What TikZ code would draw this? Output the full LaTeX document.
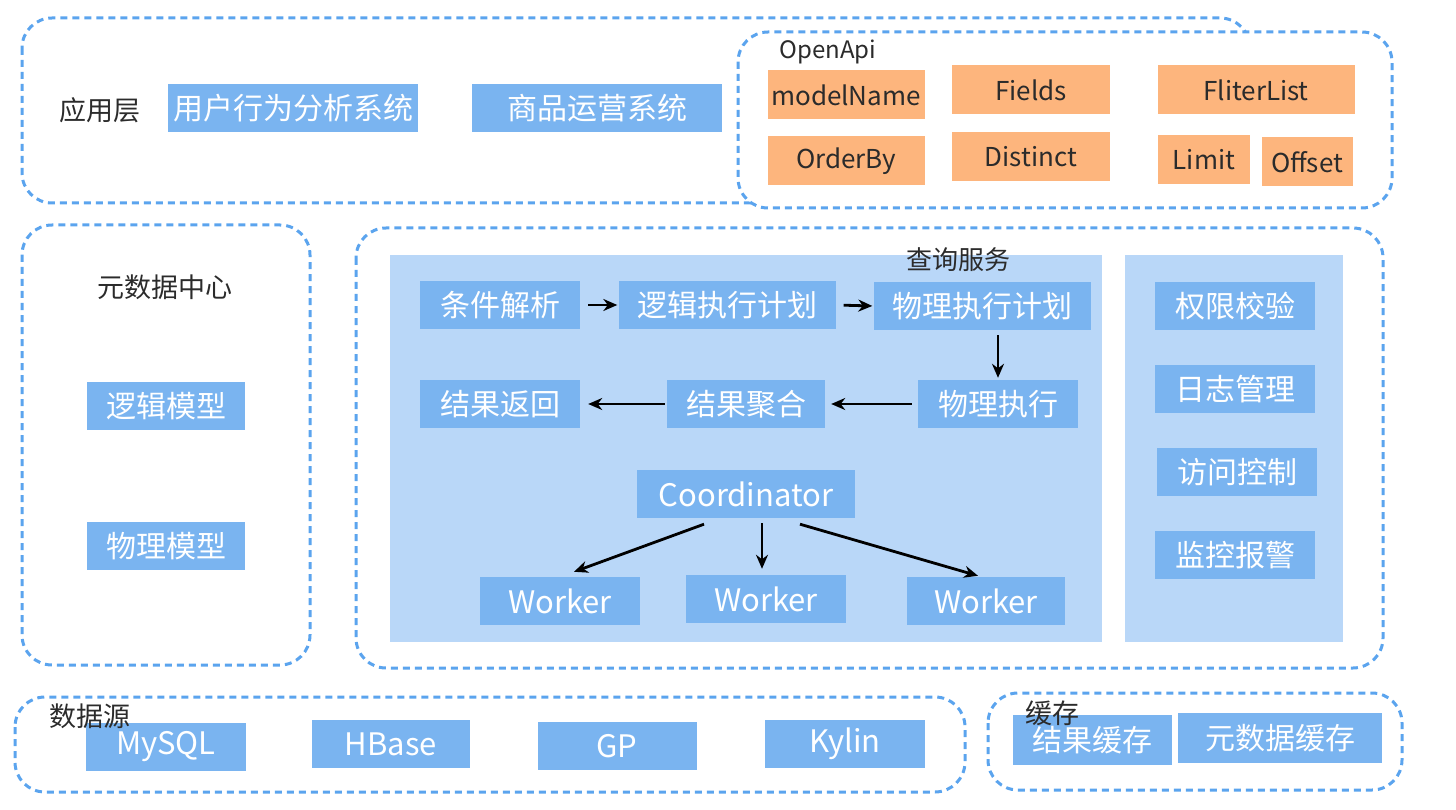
\documentclass[tikz,border=0pt]{standalone}
\usepackage{fontspec}
\setmainfont{Noto Sans CJK SC}
\usepackage{tikz}
\usetikzlibrary{positioning, arrows.meta, calc}

\definecolor{dashblue}{HTML}{5BA4EE}
\definecolor{boxblue}{HTML}{7AB4F0}
\definecolor{panelblue}{HTML}{B9D7F8}
\definecolor{apiorange}{HTML}{FDB57D}
\definecolor{textdark}{HTML}{2B2B2B}

\begin{document}
\begin{tikzpicture}[
    x=1pt, y=-1pt,
    zone/.style={draw=dashblue, dash pattern=on 7pt off 5pt, line width=3pt, rounded corners=30pt},
    panel/.style={fill=panelblue},
    blk/.style={rectangle, fill=boxblue, text=white, inner sep=0pt,
                minimum width=160pt, minimum height=48pt, font=\fontsize{30}{31}\selectfont},
    latin/.style={font=\fontsize{31}{32}\selectfont},
    api/.style={rectangle, fill=apiorange, text=textdark, inner sep=0pt,
                minimum width=158pt, minimum height=49pt, font=\fontsize{26}{28}\selectfont},
    lbl/.style={text=textdark, inner sep=0pt, font=\fontsize{27}{28}\selectfont},
    arrow/.style={-{Stealth[length=14pt, width=12pt]}, line width=2.8pt, black}
]
    \useasboundingbox (0,0) rectangle (1456,810);

    % === Application layer ===
    \draw[zone] (22,18) rectangle (1250,203);
    \node[blk, minimum width=250pt] (userapp) at (293,108) {用户行为分析系统};
    \node[blk, minimum width=250pt] (goodsapp) at (597,108) {商品运营系统};
    \node[lbl] (applabel) at (100,110) {应用层};

    % === OpenApi ===
    \draw[zone, fill=white] (738,32) rectangle (1392,208);
    \node[lbl, font=\fontsize{24}{26}\selectfont] (apilabel) at (828,52) {OpenApi};
    \node[api, minimum width=157pt] (modelname) at (846,95) {modelName};
    \node[api] (fields) at (1031,90) {Fields};
    \node[api, minimum width=197pt] (filterlist) at (1256,90) {FliterList};
    \node[api, minimum width=157pt] (orderby) at (846,161) {OrderBy};
    \node[api] (distinct) at (1031,157) {Distinct};
    \node[api, minimum width=92pt] (limit) at (1204,160) {Limit};
    \node[api, minimum width=91pt] (offset) at (1307,162) {Offset};

    % === Metadata center ===
    \draw[zone] (22,225) rectangle (310,665);
    \node[lbl] (metalabel) at (165,287) {元数据中心};
    \node[blk, minimum width=158pt] (logicmodel) at (166,406) {逻辑模型};
    \node[blk, minimum width=158pt] (physmodel) at (166,546) {物理模型};

    % === Query service ===
    \draw[zone] (356,228) rectangle (1383,668);
    \fill[panel] (390,255) rectangle (1102,642);
    \fill[panel] (1125,255) rectangle (1343,642);
    \node[lbl, font=\fontsize{26}{27}\selectfont] (querylabel) at (958,260) {查询服务};

    \node[blk] (parse) at (500,305) {条件解析};
    \node[blk, minimum width=217pt] (logicplan) at (727,305) {逻辑执行计划};
    \node[blk, minimum width=217pt] (physplan) at (982,306) {物理执行计划};
    \node[blk] (physexec) at (998,404) {物理执行};
    \node[blk, minimum width=158pt] (merge) at (746,404) {结果聚合};
    \node[blk] (result) at (500,404) {结果返回};

    \draw[arrow, shorten <=8pt, shorten >=1pt] (parse.east) -- (logicplan.west);
    \draw[arrow, shorten <=8pt, shorten >=1pt] (logicplan.east) -- (physplan.west);
    \draw[arrow, shorten <=5pt, shorten >=2pt] (physexec.north |- physplan.south) -- (physexec.north);
    \draw[arrow, shorten <=6pt, shorten >=6pt] (physexec.west) -- (merge.west -| merge.east);
    \draw[arrow, shorten <=2pt, shorten >=8pt] (merge.west) -- (result.east);

    \node[blk, latin, minimum width=218pt] (coord) at (746,494) {Coordinator};
    \node[blk, latin] (worker1) at (560,601) {Worker};
    \node[blk, latin] (worker2) at (766,599) {Worker};
    \node[blk, latin, minimum width=158pt] (worker3) at (986,601) {Worker};

    \draw[arrow] ([xshift=-42pt, yshift=-6pt]coord.south) -- ([xshift=14pt, yshift=5pt]worker1.north);
    \draw[arrow] ([xshift=16pt, yshift=-5pt]coord.south) -- ([xshift=-4pt, yshift=6pt]worker2.north);
    \draw[arrow] ([xshift=54pt, yshift=-6pt]coord.south) -- ([xshift=-8pt, yshift=1pt]worker3.north);

    % === Right side services ===
    \node[blk] (auth) at (1235,306) {权限校验};
    \node[blk] (logmgr) at (1235,389) {日志管理};
    \node[blk] (access) at (1237,472) {访问控制};
    \node[blk] (monitor) at (1235,555) {监控报警};

    % === Data sources ===
    \draw[zone] (15,697) rectangle (965,792);
    \node[blk, latin] (mysql) at (166,747) {MySQL};
    \node[blk, latin, minimum width=158pt] (hbase) at (391,744) {HBase};
    \node[blk, latin, minimum width=159pt] (gp) at (617,746) {GP};
    \node[blk, latin] (kylin) at (845,744) {Kylin};
    \node[lbl] (srclabel) at (90,716) {数据源};

    % === Cache ===
    \draw[zone] (988,693) rectangle (1402,790);
    \node[blk, minimum width=159pt, minimum height=50pt] (rescache) at (1092,740) {结果缓存};
    \node[blk, minimum width=204pt, minimum height=50pt] (metacache) at (1280,738) {元数据缓存};
    \node[lbl] (cachelabel) at (1052,713) {缓存};

\end{tikzpicture}
\end{document}
